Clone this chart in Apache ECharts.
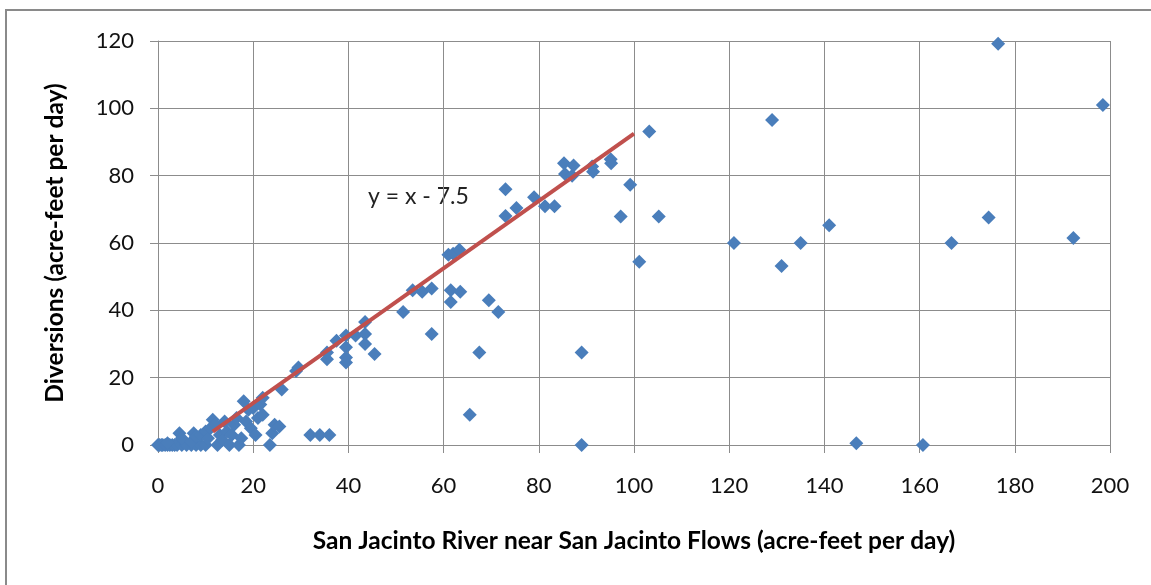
<!DOCTYPE html>
<html>
<head>
<meta charset="utf-8" />
<title>San Jacinto diversions</title>
<script src="https://cdn.jsdelivr.net/npm/echarts@6/dist/echarts.min.js"></script>
<style>
  html, body { margin: 0; padding: 0; background: #fff; }
  #chart { width: 1151px; height: 585px; }
</style>
</head>
<body>
<div id="chart"></div>
<script>
// river flow (x) and diversion (y), acre-feet per day
var flows = [
  0, 0.3, 0.7, 1, 1.5, 2, 2.5, 3, 3.5, 4, 5, 6, 7, 8, 9, 10,
  2, 4.5, 5, 7, 7.5, 8, 9, 10, 10.5, 11, 11.5, 12, 12.5, 13, 13.5, 14, 14.5, 15, 15.5, 16, 16.5, 17, 17.5,
  18, 18.5, 19, 19.5, 20, 20.5, 21, 21.5, 22, 22, 23.5, 24, 24.5, 25.5, 26,
  29, 29.5, 32, 34, 36, 35.5, 35.5, 37.5, 39.5, 39.5, 39.5, 39.5, 41.5, 43.5, 43.5, 43.5, 45.5,
  51.5, 53.5, 55.5, 57.5, 57.5, 61, 62, 63.3, 61.5, 63.5, 61.5, 65.5, 67.5, 69.5, 71.5,
  73, 73, 75.3, 79, 81.3, 83.3, 85.3, 87.3, 85.5, 87, 91.2, 91.4, 95.1, 95.2, 99.2, 97.2, 105.2, 101.1, 103.2,
  89, 89, 121, 129, 131, 135, 141, 146.7, 160.7, 166.7, 174.5, 176.5, 192.3, 198.5
];
var diversions = [
  0, 0, 0, 0, 0, 0, 0, 0, 0, 0, 0, 0, 0, 0, 0, 0,
  0.5, 3.5, 2, 1, 3.5, 2.5, 3, 4, 2, 5, 7.5, 6, 0, 3, 1.5, 7, 4, 0, 3, 6, 8, 0, 2,
  13, 7, 10.5, 5, 11, 3, 8, 12, 9, 14, 0, 3.5, 6, 5.5, 16.5,
  22, 23, 3, 3, 3, 25.5, 27.5, 31, 32.5, 29, 26, 24.5, 32.5, 36.5, 33, 30, 27,
  39.5, 46, 45.5, 46.5, 33, 56.5, 56.8, 58, 46, 45.5, 42.5, 9, 27.5, 43, 39.5,
  76, 68, 70.4, 73.6, 70.9, 70.9, 83.7, 83, 80.5, 80, 82.7, 81.2, 84.9, 83.7, 77.3, 67.9, 67.9, 54.4, 93.1,
  27.5, 0, 60, 96.5, 53.2, 60, 65.3, 0.5, 0, 60, 67.6, 119.2, 61.5, 101
];
// fitted line ends, as drawn
var trendX = [11.5, 100];
var trendY = [4, 92.5];
var trendText = 'y = x - 7.5';

var points = flows.map(function (x, i) { return [x, diversions[i]]; });
var trend = trendX.map(function (x, i) { return [x, trendY[i]]; });

var chart = echarts.init(document.getElementById('chart'));
var gridColor = '#8c8c8c';
var font = 'Lato';

chart.setOption({
  animation: false,
  textStyle: { fontFamily: font },
  grid: { left: 158, right: 41, top: 41, bottom: 140 },
  xAxis: {
    type: 'value', min: 0, max: 200, interval: 20,
    name: 'San Jacinto River near San Jacinto Flows (acre-feet per day)',
    nameLocation: 'middle', nameGap: 84,
    nameTextStyle: { fontSize: 24.5, fontWeight: 'bold', color: '#000', fontFamily: font },
    axisLine: { lineStyle: { color: gridColor } },
    axisTick: { show: true, inside: false, length: 8, lineStyle: { color: gridColor } },
    axisLabel: { fontSize: 22, color: '#111', margin: 30 },
    splitLine: { show: true, lineStyle: { color: gridColor, width: 1 } }
  },
  yAxis: {
    type: 'value', min: 0, max: 120, interval: 20,
    name: 'Diversions (acre-feet per day)',
    nameLocation: 'middle', nameGap: 90,
    nameTextStyle: { fontSize: 24.5, fontWeight: 'bold', color: '#000', fontFamily: font },
    axisLine: { show: true, lineStyle: { color: gridColor } },
    axisTick: { show: true, inside: false, length: 8, lineStyle: { color: gridColor } },
    axisLabel: { fontSize: 22, color: '#111', margin: 24 },
    splitLine: { show: true, lineStyle: { color: gridColor, width: 1 } }
  },
  series: [
    {
      type: 'scatter',
      data: points,
      symbol: 'diamond',
      symbolSize: 14,
      itemStyle: { color: '#4a7ebb', opacity: 1 },
      z: 2
    },
    {
      type: 'line',
      data: trend,
      symbol: 'none',
      lineStyle: { color: '#c0504d', width: 4 },
      z: 3
    }
  ],
  graphic: [
    {
      type: 'rect',
      shape: { x: 6, y: 10, width: 1300, height: 800 },
      style: { fill: 'none', stroke: '#8a8a8a', lineWidth: 2 },
      silent: true
    },
    {
      type: 'text',
      left: 368, top: 185,
      style: { text: trendText, fontSize: 23, fill: '#222', fontFamily: font }
    }
  ]
});
</script>
</body>
</html>
